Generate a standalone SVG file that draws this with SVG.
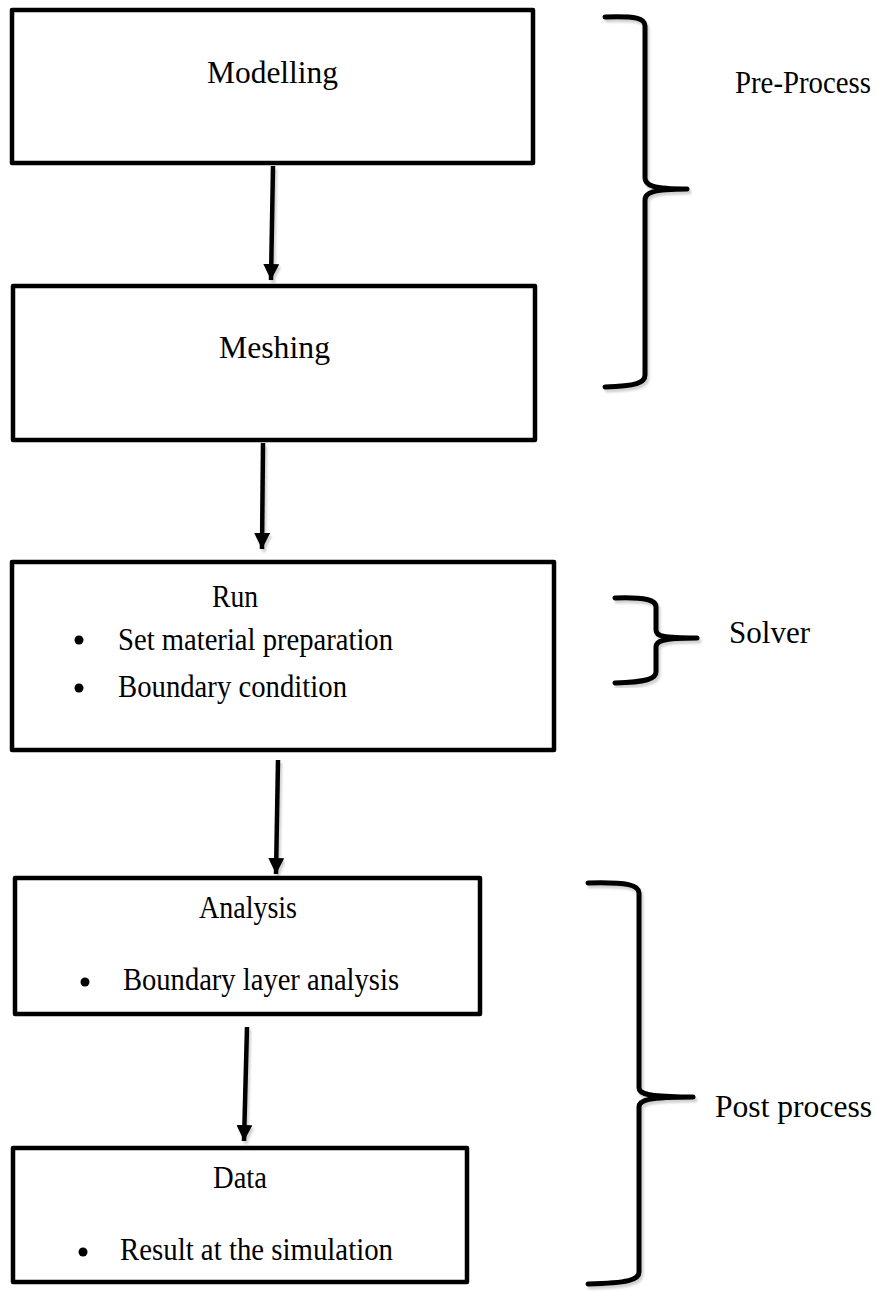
<svg xmlns="http://www.w3.org/2000/svg" width="879" height="1291" viewBox="0 0 879 1291">
<style>
.box{fill:#fff;stroke:#000;stroke-width:4.5;stroke-linejoin:round}
.t{font-family:"Liberation Serif",serif;font-size:32px;fill:#000}
.conn{stroke:#000;stroke-width:4.5;fill:none;marker-end:url(#ah)}
.brace{stroke:#000;stroke-width:5;fill:none;stroke-linecap:round;stroke-linejoin:round}
.dot{fill:#000}
</style>
<defs>
<marker id="ah" markerUnits="userSpaceOnUse" markerWidth="17" markerHeight="17" refX="16" refY="8" orient="auto" viewBox="0 0 17 17">
<path d="M0,0 L16,8 L0,16 z" fill="#000"/>
</marker>
<filter id="sh" x="-20%" y="-5%" width="140%" height="110%">
<feDropShadow dx="2" dy="3" stdDeviation="1.2" flood-color="#000" flood-opacity="0.18"/>
</filter>
</defs>
<rect width="879" height="1291" fill="#fff"/>
<g id="modelling">
<rect class="box" x="12" y="10" width="521" height="153"/>
<text class="t" x="207" y="83" textLength="131" lengthAdjust="spacingAndGlyphs">Modelling</text>
</g>
<g id="meshing">
<rect class="box" x="13" y="286" width="522" height="154"/>
<text class="t" x="219" y="358" textLength="111" lengthAdjust="spacingAndGlyphs">Meshing</text>
</g>
<g id="run">
<rect class="box" x="12" y="562" width="542" height="188"/>
<text class="t" x="212" y="607" textLength="46" lengthAdjust="spacingAndGlyphs">Run</text>
<circle class="dot" cx="79" cy="640" r="4.5"/>
<text class="t" x="118" y="650" textLength="275" lengthAdjust="spacingAndGlyphs">Set material preparation</text>
<circle class="dot" cx="79" cy="688" r="4.5"/>
<text class="t" x="118" y="697" textLength="229" lengthAdjust="spacingAndGlyphs">Boundary condition</text>
</g>
<g id="analysis">
<rect class="box" x="15" y="878" width="465" height="136"/>
<text class="t" x="199" y="918" textLength="98" lengthAdjust="spacingAndGlyphs">Analysis</text>
<circle class="dot" cx="85" cy="982" r="4.5"/>
<text class="t" x="123" y="990" textLength="276" lengthAdjust="spacingAndGlyphs">Boundary layer analysis</text>
</g>
<g id="data">
<rect class="box" x="13" y="1148" width="454" height="134"/>
<text class="t" x="213" y="1188" textLength="54" lengthAdjust="spacingAndGlyphs">Data</text>
<circle class="dot" cx="83" cy="1252" r="4.5"/>
<text class="t" x="120" y="1260" textLength="273" lengthAdjust="spacingAndGlyphs">Result at the simulation</text>
</g>
<g id="connectors" filter="url(#sh)">
<line class="conn" x1="273" y1="166" x2="271" y2="280"/>
<line class="conn" x1="263" y1="443" x2="262" y2="549"/>
<line class="conn" x1="278" y1="760" x2="276" y2="874"/>
<line class="conn" x1="247" y1="1027" x2="244" y2="1141"/>
</g>
<g id="pre-process">
<path class="brace" filter="url(#sh)" d="M605,17 C636,16 645,18 645,26 L645,178 C645,185 652,189 687,189 C652,189 645,193 645,200 L645,375 C645,383 636,386 605,387"/>
<text class="t" x="735" y="93" font-size="27" textLength="136" lengthAdjust="spacingAndGlyphs">Pre-Process</text>
</g>
<g id="solver">
<path class="brace" filter="url(#sh)" d="M615,598 C646,597 656,600 656,607 L656,630 C656,636 662,638 697,638 C662,638 656,641 656,647 L656,672 C656,679 646,682 615,683"/>
<text class="t" x="729" y="643" textLength="81" lengthAdjust="spacingAndGlyphs">Solver</text>
</g>
<g id="post-process">
<path class="brace" filter="url(#sh)" d="M588,883 C628,882 639,885 639,893 L639,1088 C639,1094 648,1097 693,1097 C648,1097 639,1100 639,1107 L639,1272 C639,1280 628,1283 588,1284"/>
<text class="t" x="715" y="1117" textLength="157" lengthAdjust="spacingAndGlyphs">Post process</text>
</g>
</svg>
